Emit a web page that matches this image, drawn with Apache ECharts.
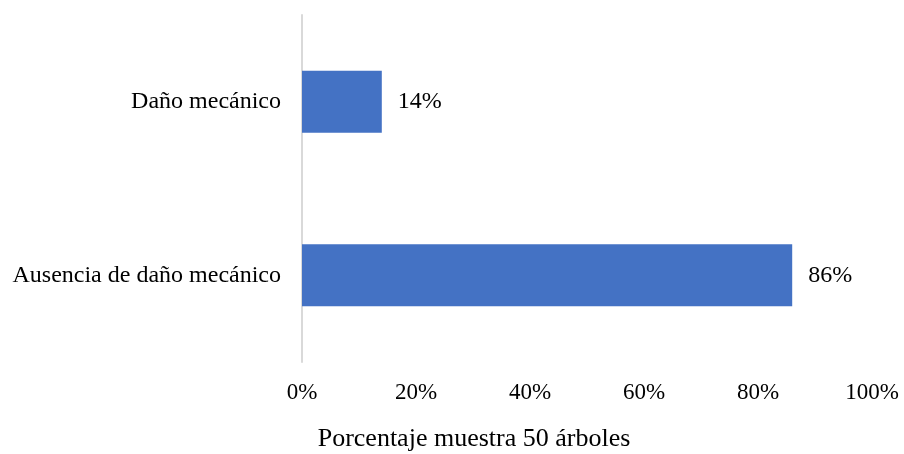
<!DOCTYPE html>
<html>
<head>
<meta charset="utf-8">
<script src="https://cdn.jsdelivr.net/npm/echarts@6/dist/echarts.min.js"></script>
<style>
  html, body { margin: 0; padding: 0; background: #fff; }
  #chart { width: 904px; height: 454px; }
</style>
</head>
<body>
<div id="chart"></div>
<script>
// categories bottom -> top
const categories = ['Ausencia de daño mecánico', 'Daño mecánico']
const percentages = [86, 14]
const tickValues = [0, 20, 40, 60, 80, 100]
const axisTitle = 'Porcentaje muestra 50 árboles'

const font = '"Liberation Serif", "Times New Roman", serif'
const chart = echarts.init(document.getElementById('chart'))

chart.setOption({
  animation: false,
  // axis title sits left of the plot centre in the original, so use a title block
  title: {
    text: axisTitle,
    left: 474,
    top: 426,
    padding: 0,
    textAlign: 'center',
    textStyle: { fontFamily: font, fontSize: 26, fontWeight: 'normal', color: '#000' }
  },
  grid: {
    left: 302,
    right: 32,
    top: 15,
    bottom: 92
  },
  xAxis: {
    type: 'value',
    min: tickValues[0],
    max: tickValues[tickValues.length - 1],
    interval: 20,
    axisLine: { show: false },
    axisTick: { show: false },
    splitLine: { show: false },
    axisLabel: {
      formatter: '{value}%',
      fontFamily: font,
      fontSize: 23,
      color: '#000',
      margin: 19
    }
  },
  yAxis: {
    type: 'category',
    data: categories,
    axisLine: { show: true, lineStyle: { color: '#d9d9d9', width: 2 } },
    axisTick: { show: false },
    axisLabel: {
      fontFamily: font,
      fontSize: 24,
      color: '#000',
      margin: 21
    }
  },
  series: [{
    type: 'bar',
    data: percentages,
    barWidth: 62,
    itemStyle: { color: '#4472c4' },
    label: {
      show: true,
      position: 'right',
      distance: 16,
      formatter: '{c}%',
      fontFamily: font,
      fontSize: 24,
      color: '#000'
    }
  }]
})
</script>
</body>
</html>
